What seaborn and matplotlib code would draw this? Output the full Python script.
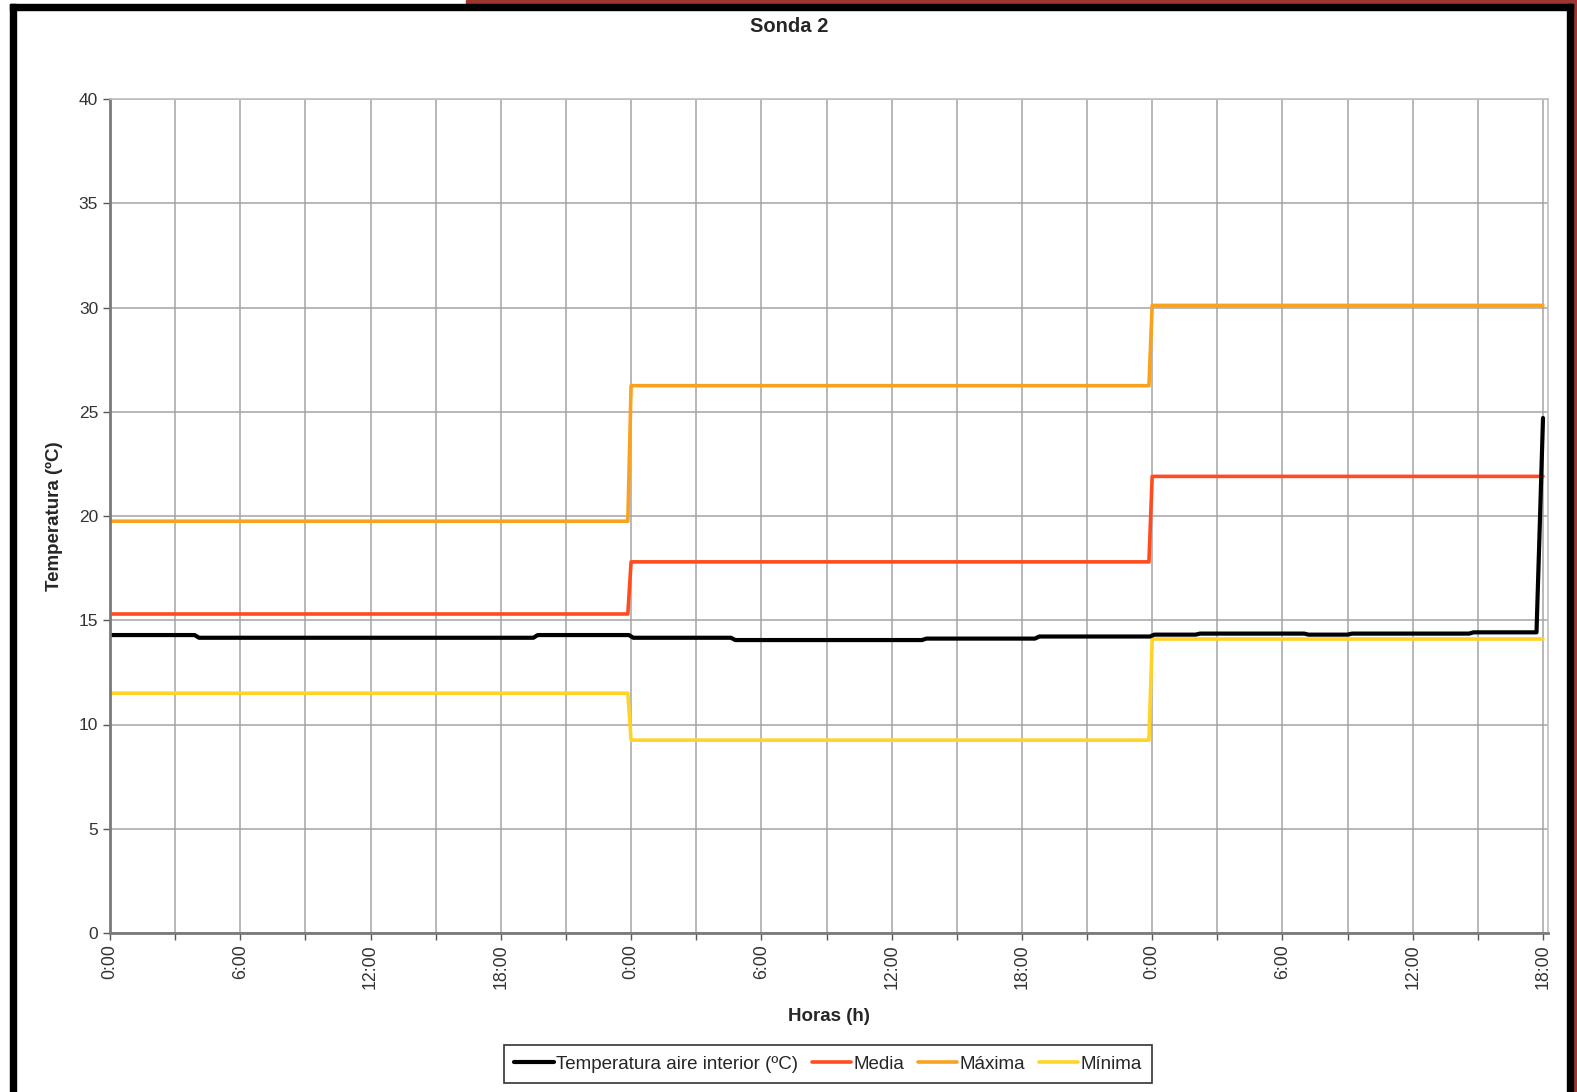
import numpy as np
import pandas as pd
import seaborn as sns
import matplotlib
matplotlib.use("Agg")
import matplotlib.pyplot as plt
from matplotlib.patches import Rectangle
from matplotlib.ticker import MultipleLocator, FixedLocator

# ---------------- data ----------------
# step series (daily statistics), breakpoints in hours
step_hours = [0, 23.85, 24.0, 47.85, 48.0, 66.0]
media_daily = [15.3, 17.8, 21.9]
maxima_daily = [19.75, 26.25, 30.1]
minima_daily = [11.5, 9.25, 14.1]

# interior air temperature, read at change points (hours, ºC)
air_hours = [0, 3.9, 4.1, 19.5, 19.7, 23.9, 24.1, 28.6, 28.8, 37.4, 37.6,
             42.6, 42.8, 47.9, 48.1, 50.0, 50.2, 55.0, 55.2, 57.0, 57.2,
             62.6, 62.8, 65.7, 65.85, 66.0]
air_temp = [14.29, 14.29, 14.16, 14.16, 14.29, 14.29, 14.16, 14.16, 14.05, 14.05, 14.12,
            14.12, 14.22, 14.22, 14.31, 14.31, 14.36, 14.36, 14.31, 14.31, 14.36,
            14.36, 14.42, 14.42, 19.5, 24.7]

xtick_labels = ["0:00", "6:00", "12:00", "18:00"] * 3

title = "Sonda 2"
xlabel = "Horas (h)"
ylabel = "Temperatura (ºC)"
names = ["Temperatura aire interior (ºC)", "Media", "Máxima", "Mínima"]
colors = ["#000000", "#FF4B1E", "#F8A21E", "#FFD426"]

def steps(daily):
    vals = []
    for d in daily:
        vals += [d, d]
    return vals

df = pd.concat([
    pd.DataFrame({"h": air_hours, "t": air_temp, "serie": names[0]}),
    pd.DataFrame({"h": step_hours, "t": steps(media_daily), "serie": names[1]}),
    pd.DataFrame({"h": step_hours, "t": steps(maxima_daily), "serie": names[2]}),
    pd.DataFrame({"h": step_hours, "t": steps(minima_daily), "serie": names[3]}),
])

# ---------------- style ----------------
sns.set_theme(style="white")
plt.rcParams["font.family"] = ["Liberation Sans", "DejaVu Sans"]

W, H = 1577, 1092
fig = plt.figure(figsize=(W / 100, H / 100), dpi=100)
ax = fig.add_axes([110 / W, 1 - 933 / H, (1548 - 110) / W, (933 - 99) / H])

order_draw = [names[2], names[1], names[3], names[0]]
widths = {names[0]: 3.0, names[1]: 2.6, names[2]: 2.6, names[3]: 2.6}
for nm in order_draw:
    sub = df[df["serie"] == nm]
    sns.lineplot(data=sub, x="h", y="t", ax=ax, color=colors[names.index(nm)],
                 lw=widths[nm], estimator=None, sort=False, label=nm, legend=False)

ax.set_xlim(0, 66.23)
ax.set_ylim(0, 40)
ax.yaxis.set_major_locator(MultipleLocator(5))
ax.xaxis.set_major_locator(FixedLocator(np.arange(0, 67, 6)))
ax.xaxis.set_minor_locator(FixedLocator(np.arange(0, 67, 3)))
ax.set_xticklabels(xtick_labels, rotation=90, fontsize=12.8, color="#333333")
ax.tick_params(axis="y", labelsize=12.5, labelcolor="#333333")
ax.tick_params(axis="both", which="both", direction="out", color="#555555",
               length=5, width=1, bottom=True, left=True)
ax.tick_params(axis="x", which="major", pad=3)
ax.grid(True, which="both", color="#a4a4a4", lw=1.1)
ax.set_axisbelow(True)
for s in ["left", "bottom"]:
    ax.spines[s].set_color("#7a7a7a")
    ax.spines[s].set_linewidth(2)
for s in ["top", "right"]:
    ax.spines[s].set_color("#c0c0c0")
    ax.spines[s].set_linewidth(1.2)

ax.set_xlabel(xlabel, fontsize=13.5, fontweight="bold", labelpad=14)
ax.set_ylabel(ylabel, fontsize=13.5, fontweight="bold", labelpad=11)
fig.text(789 / W, 1 - 27 / H, title, ha="center", va="center",
         fontsize=14.5, fontweight="bold")

handles = {l.get_label(): l for l in ax.get_lines()}
leg = fig.legend([handles[n] for n in names], names, loc="center",
                 bbox_to_anchor=(828 / W, 1 - 1064 / H), ncol=4,
                 frameon=True, fancybox=False, fontsize=13.5, handlelength=2.1,
                 handletextpad=0.1, columnspacing=0.75, borderpad=0.55,
                 borderaxespad=0)
leg.get_frame().set_edgecolor("#000000")
leg.get_frame().set_linewidth(1.2)

# outer frame
def rect(x0, y0, x1, y1, c):
    fig.patches.append(Rectangle((x0 / W, 1 - y1 / H), (x1 - x0) / W, (y1 - y0) / H,
                                 transform=fig.transFigure, color=c, zorder=10))
rect(466, 0, 1577, 4, "#9B3631")
rect(1573, 0, 1577, 1092, "#9B3631")
rect(10, 4, 1573, 9.5, "#000000")
rect(10, 4, 16, 1092, "#000000")
rect(1567, 4, 1573, 1092, "#000000")

fig.savefig("out.png", dpi=100)
